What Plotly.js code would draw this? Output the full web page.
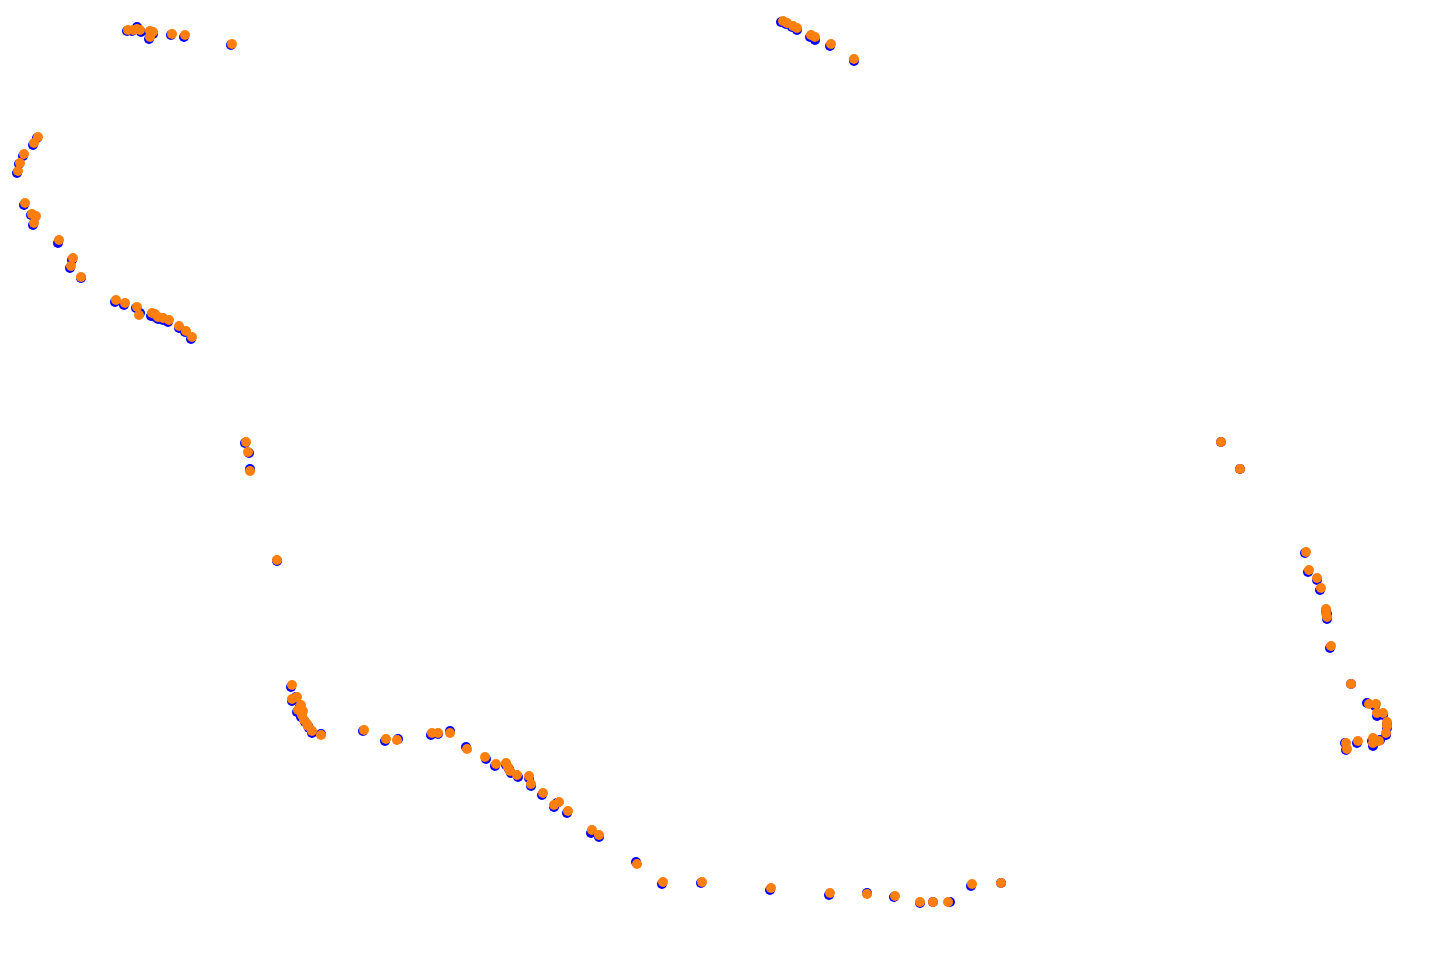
<!DOCTYPE html>
<html>
<head>
<meta charset="utf-8">
<script src="https://cdn.plot.ly/plotly-3.0.1.min.js"></script>
<style>html,body{margin:0;padding:0;background:#fff;}#chart{width:1443px;height:962px;}</style>
</head>
<body>
<div id="chart"></div>
<script>
// Series A (blue) track samples
const blueX = [
  127,132,137,141,150,153,149,171,184,231,
  37,33,23,19,17,
  24,31,35,33,58,72,70,81,115,124,136,140,151,155,158,163,168,179,185,191,
  245,249,250,277,
  781,786,792,797,810,815,830,854,
  291,296,292,300,297,302,301,305,308,309,312,321,363,385,398,431,438,450,466,
  486,495,506,509,511,518,529,531,542,554,557,567,591,599,
  636,662,701,770,829,867,894,920,933,950,971,1001,
  1221,1240,1305,1308,1317,1320,1326,1327,1327,1330,1351,1367,1375,1377,1383,1387,1387,1386,1380,1372,1373,1357,1345,1346];
const blueY = [
  31,31,27,32,33,34,39,35,37,45,
  138,145,156,164,173,
  205,215,217,225,243,260,268,278,302,305,308,313,316,317,319,320,322,328,332,339,
  443,453,469,561,
  22,24,27,30,37,40,46,61,
  687,697,701,707,712,712,717,722,726,728,733,734,731,741,739,735,734,731,747,
  759,766,765,769,773,777,778,786,795,807,803,813,833,837,
  862,884,883,890,895,893,897,903,902,902,886,883,
  442,469,553,572,580,590,611,614,619,648,684,703,706,716,715,724,728,735,740,741,746,743,743,750];
// Series B (orange) track samples
const orangeX = [
  128,133,137,140,150,153,150,172,185,232,
  38,34,24,20,18,
  25,32,36,34,59,73,71,81,116,125,137,139,152,155,158,163,169,179,186,192,
  246,248,250,277,
  783,787,793,797,811,815,831,854,
  292,297,292,301,298,303,302,304,307,308,312,321,364,386,397,432,438,450,467,
  485,496,506,508,510,517,529,531,543,554,559,568,592,599,
  637,663,702,771,830,867,895,920,933,948,972,1001,
  1221,1240,1306,1309,1317,1321,1326,1326,1327,1331,1351,1369,1376,1377,1383,1387,1387,1386,1379,1373,1373,1358,1346,1347];
const orangeY = [
  30,30,29,30,31,32,37,34,35,44,
  137,143,154,163,171,
  203,214,216,223,240,258,266,277,300,303,307,315,313,314,317,318,320,326,331,337,
  442,452,471,560,
  21,23,26,28,35,37,44,59,
  685,697,699,705,710,711,715,720,724,726,731,735,730,739,740,733,733,733,749,
  757,764,763,767,771,775,776,784,793,805,802,811,830,835,
  864,882,882,888,893,894,896,902,902,902,884,883,
  442,469,552,570,578,588,609,613,617,646,684,704,704,713,713,722,726,733,741,738,743,741,743,749];

const traces = [
  {x: blueX, y: blueY, type: 'scatter', mode: 'markers', name: 'A',
   marker: {color: '#0000ff', size: 10}},
  {x: orangeX, y: orangeY, type: 'scatter', mode: 'markers', name: 'B',
   marker: {color: '#ff7f0e', size: 10}}
];
const layout = {
  width: 1443, height: 962,
  margin: {l: 0, r: 0, t: 0, b: 0, pad: 0},
  paper_bgcolor: '#ffffff', plot_bgcolor: '#ffffff',
  showlegend: false,
  xaxis: {range: [0, 1443], visible: false, showgrid: false, zeroline: false},
  yaxis: {range: [962, 0], visible: false, showgrid: false, zeroline: false},
  hovermode: false
};
Plotly.newPlot('chart', traces, layout, {displayModeBar: false, staticPlot: true});
</script>
</body>
</html>
